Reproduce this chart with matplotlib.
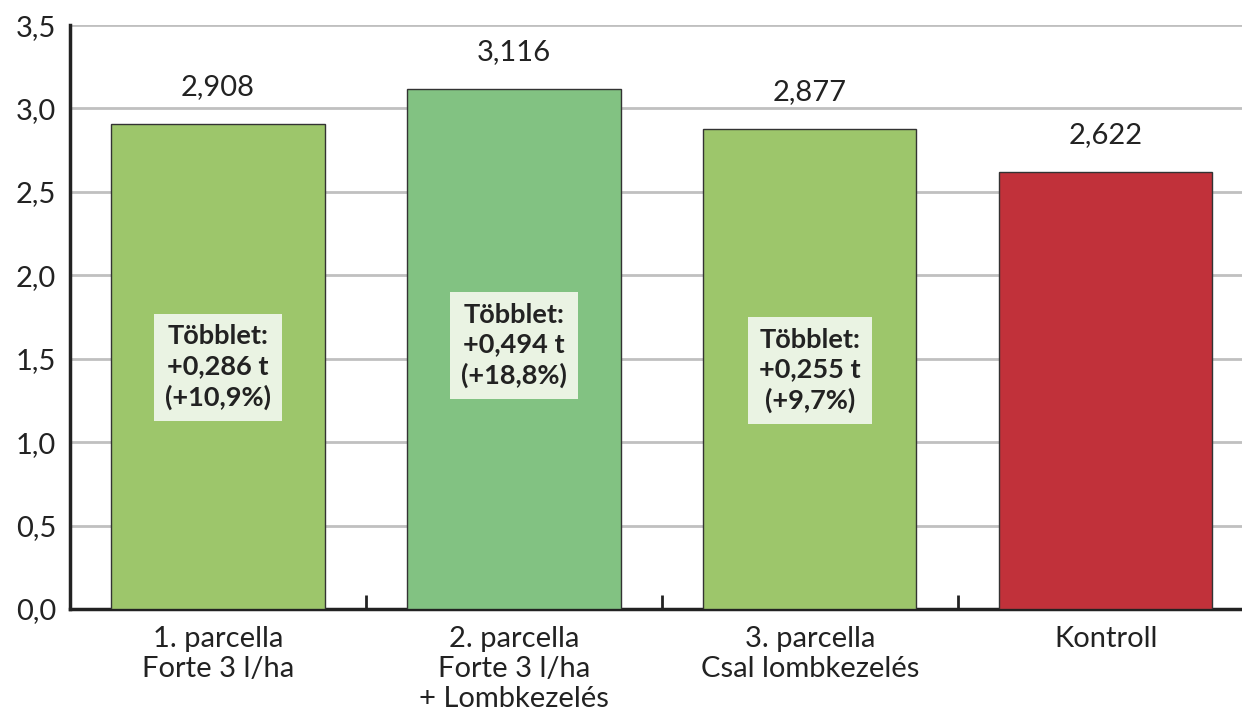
import matplotlib.pyplot as plt
import numpy as np

# --- Data ---
categories = ["1. parcella\nForte 3 l/ha",
              "2. parcella\nForte 3 l/ha\n+ Lombkezelés",
              "3. parcella\nCsal lombkezelés",
              "Kontroll"]
values = [2.908, 3.116, 2.877, 2.622]
value_labels = ["2,908", "3,116", "2,877", "2,622"]
extra_labels = ["Többlet:\n+0,286 t\n(+10,9%)",
                "Többlet:\n+0,494 t\n(+18,8%)",
                "Többlet:\n+0,255 t\n(+9,7%)"]
extra_pos = [1.45, 1.58, 1.43]
colors = ["#9DC66B", "#82C282", "#9DC66B", "#C1313A"]
yticks = [0.0, 0.5, 1.0, 1.5, 2.0, 2.5, 3.0, 3.5]
ytick_labels = ["0,0", "0,5", "1,0", "1,5", "2,0", "2,5", "3,0", "3,5"]

plt.rcParams['font.family'] = ['Lato', 'DejaVu Sans']

# --- Plotting ---
fig = plt.figure(figsize=(12.42, 7.16), dpi=100)
ax = fig.add_axes([0.0564, 0.1494, 0.9436, 0.8156])

x = np.arange(len(categories))
ax.bar(x, values, width=0.72, color=colors, edgecolor="#333333", linewidth=1.0, zorder=3)

for xi, v, lab in zip(x, values, value_labels):
    ax.text(xi, v + 0.22, lab, ha="center", va="center", fontsize=21, color="#222222")

for xi, y, lab in zip(x, extra_pos, extra_labels):
    ax.text(xi, y, lab, ha="center", va="center", fontsize=19.5, fontweight="bold",
            color="#222222", linespacing=1.3, zorder=4,
            bbox=dict(boxstyle="square,pad=0.4", facecolor="#EAF3E3", edgecolor="none"))

ax.set_xlim(-0.5, 3.46)
ax.set_ylim(0, 3.5)
ax.set_yticks(yticks)
ax.set_yticklabels(ytick_labels, fontsize=21, color="#222222")
ax.set_xticks(x)
ax.set_xticklabels(categories, fontsize=21, color="#222222", linespacing=1.2)
ax.tick_params(axis="x", length=0, pad=12)
ax.tick_params(axis="y", length=0, pad=10)

# category separators
ax.set_xticks([0.5, 1.5, 2.5], minor=True)
ax.tick_params(axis="x", which="minor", direction="in", length=10, width=2, color="#222222")

ax.grid(axis="y", color="#C0C0C0", linewidth=2, zorder=0)
for s in ["top", "right"]:
    ax.spines[s].set_visible(False)
ax.spines["left"].set_linewidth(2.5)
ax.spines["bottom"].set_linewidth(2.5)
ax.spines["left"].set_color("#222222")
ax.spines["bottom"].set_color("#222222")

plt.savefig("out.png", dpi=100)
